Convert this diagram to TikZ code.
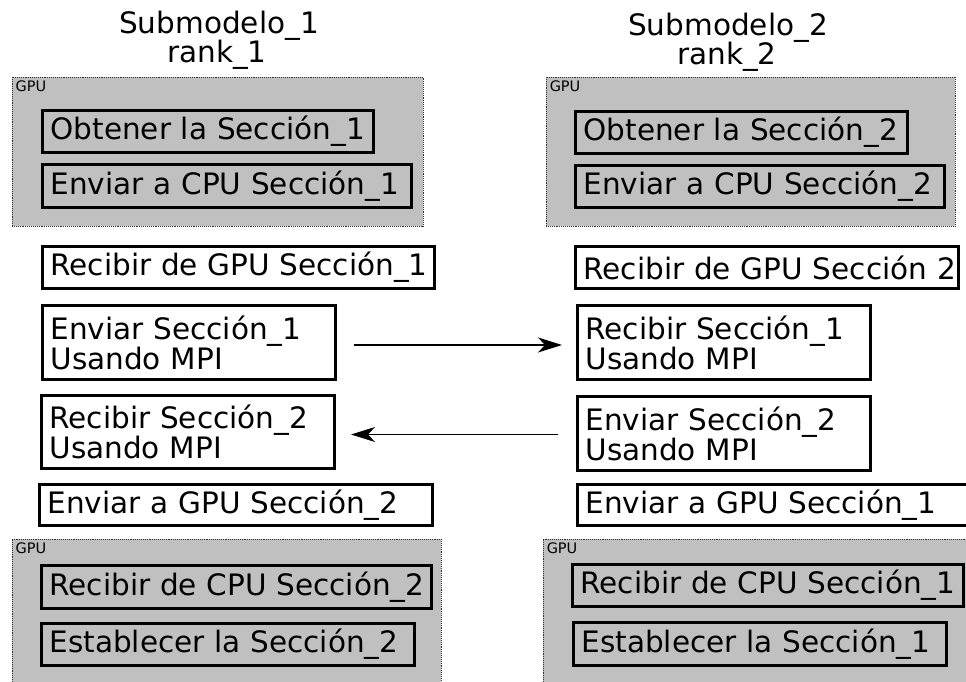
\documentclass[tikz,border=0pt]{standalone}
\usepackage{fontspec}
\setmainfont{DejaVu Sans}
\usetikzlibrary{arrows.meta}
\definecolor{gpufill}{RGB}{192,192,192}

% procedure box given by its pixel corners: name, x1, y1, x2, y2, text
\newcommand\procbox[6]{%
  \pgfmathsetmacro\pbTW{#4-#2-3-16}%
  \pgfmathsetmacro\pbH{#5-#3-3}%
  \node[stepbox, text width=\pbTW pt, minimum height=\pbH pt] (#1) at ({(#2+#4)/2},{(#3+#5)/2}) {#6};%
}
% GPU region: name, x1, y1, x2, y2
\newcommand\gpuregion[5]{%
  \pgfmathsetmacro\grW{#4-#2}%
  \pgfmathsetmacro\grH{#5-#3}%
  \node[gpubox, minimum width=\grW pt, minimum height=\grH pt] (#1) at ({(#2+#4)/2},{(#3+#5)/2}) {};%
  \node[gpulabel] (#1-label) at ([xshift=4pt,yshift=-4pt]#1.north west) {GPU};%
}

\begin{document}
\begin{tikzpicture}[x=1pt,y=-1pt,
  stepbox/.style={draw=black, line width=3pt, inner xsep=8pt, inner ysep=0pt,
    align=left, font=\fontsize{29.5pt}{30pt}\selectfont},
  gpubox/.style={fill=gpufill, draw=black!80, densely dotted, line width=0.9pt, inner sep=0pt},
  gpulabel/.style={anchor=north west, inner sep=0pt, font=\fontsize{14.5pt}{16pt}\selectfont},
  title/.style={anchor=base, inner sep=0pt, font=\fontsize{29.5pt}{30pt}\selectfont},
  msg/.style={line width=1.3pt, -{Stealth[length=24pt,width=15pt,inset=7pt]}}]
\clip (0,0) rectangle (966,682);

% column headings
\node[title] (t1a) at (219,34) {Submodelo\_1};
\node[title] (t1b) at (217,63) {rank\_1};
\node[title] (t2a) at (728,36) {Submodelo\_2};
\node[title] (t2b) at (727,65) {rank\_2};

% GPU regions
\gpuregion{gpuA}{12}{77}{423}{226}
\gpuregion{gpuB}{546}{77}{955}{226}
\gpuregion{gpuC}{12}{539}{441}{700}
\gpuregion{gpuD}{543}{539}{990}{700}

% rank 1
\procbox{obt1}{41}{109}{375}{154}{\mbox{Obtener la Sección\_1}}
\procbox{cpu1}{41}{163}{413}{209}{\mbox{Enviar a CPU Sección\_1}}
\procbox{rgpu1}{41}{245}{436}{290}{\mbox{Recibir de GPU Sección\_1}}
\procbox{smpi1}{41}{304}{337}{381}{\mbox{Enviar Sección\_1}\\\mbox{Usando MPI}}
\procbox{rmpi2}{40}{394}{336}{470}{\mbox{Recibir Sección\_2}\\\mbox{Usando MPI}}
\procbox{egpu2}{38}{483}{434}{527}{\mbox{Enviar a GPU Sección\_2}}
\procbox{rcpu2}{40}{564}{433}{610}{\mbox{Recibir de CPU Sección\_2}}
\procbox{est2}{40}{622}{416}{667}{\mbox{Establecer la Sección\_2}}

% rank 2
\procbox{obt2}{574}{110}{909}{155}{\mbox{Obtener la Sección\_2}}
\procbox{cpu2}{574}{164}{946}{209}{\mbox{Enviar a CPU Sección\_2}}
\procbox{rgpu2}{574}{245}{960}{290}{\mbox{Recibir de GPU Sección 2}}
\procbox{rmpi1}{576}{304}{872}{381}{\mbox{Recibir Sección\_1}\\\mbox{Usando MPI}}
\procbox{smpi2}{576}{395}{872}{472}{\mbox{Enviar Sección\_2}\\\mbox{Usando MPI}}
\procbox{egpu1}{576}{483}{980}{527}{\mbox{Enviar a GPU Sección\_1}}
\procbox{rcpu1}{571}{563}{965}{608}{\mbox{Recibir de CPU Sección\_1}}
\procbox{est1}{572}{621}{948}{667}{\mbox{Establecer la Sección\_1}}

% MPI exchange
\draw[msg, shorten <=17pt, shorten >=14pt] ([yshift=-2.5pt]smpi1.east) -- ([yshift=-2.5pt]smpi1.east -| rmpi1.west);
\draw[msg, shorten <=18pt, shorten >=15pt] ([yshift=-1pt]smpi2.west) -- ([yshift=-1pt]smpi2.west -| rmpi2.east);
\end{tikzpicture}
\end{document}
